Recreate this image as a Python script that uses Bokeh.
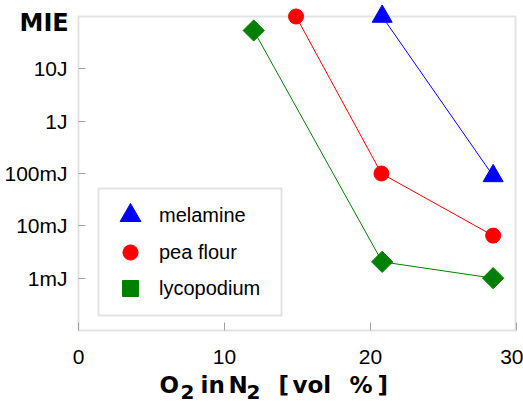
from bokeh.plotting import figure
from bokeh.models import (FixedTicker, Label, BoxAnnotation, Range1d,
                          Legend, LegendItem)
from bokeh.embed import file_html
from bokeh.resources import INLINE
import math

# ---- data (O2 in N2 [vol %], MIE in J) ----
o2_melamine = [20.8, 28.4]
mie_melamine = [100.0, 0.09]
o2_pea = [14.9, 20.75, 28.4]
mie_pea = [100.0, 0.1, 0.0065]
o2_lyco = [12.0, 20.8, 28.4]
mie_lyco = [54.0, 0.00205, 0.001]

x_ticks = [0, 10, 20, 30]
y_ticks = [0.001, 0.01, 0.1, 1.0, 10.0]
y_tick_labels = ["1mJ", "10mJ", "100mJ", "1J", "10J"]

GREY = "#a0a0a0"

# frame covers the whole canvas; axes are pinned with fixed_location
W, H = 523, 402
AX_X, AX_Y = 78, 330          # canvas px of x=0 and y=1e-4
PX_UNIT = 14.6                # px per vol %
PX_DEC = 314 / 6              # px per decade
x0 = -AX_X / PX_UNIT
x1 = (W - AX_X) / PX_UNIT
y0 = 1e-4 * 10 ** (-(H - AX_Y) / PX_DEC)
y1 = 1e-4 * 10 ** (AX_Y / PX_DEC)

p = figure(width=W, height=H, y_axis_type="log",
           x_range=Range1d(x0, x1), y_range=Range1d(y0, y1),
           output_backend="svg", toolbar_location=None, title=None,
           min_border_left=0, min_border_right=0, min_border_top=0,
           min_border_bottom=0)
p.outline_line_color = None
p.background_fill_color = "white"
p.border_fill_color = "white"
p.xgrid.visible = False
p.ygrid.visible = False

# frame box
p.add_layout(BoxAnnotation(left=0, right=(515 - AX_X) / PX_UNIT, bottom=1e-4,
                           top=100, fill_alpha=0, line_color=GREY,
                           line_width=2, level="underlay"))

for ax in (p.xaxis[0], p.yaxis[0]):
    ax.axis_line_color = None
    ax.major_tick_line_color = GREY
    ax.major_tick_line_width = 1
    ax.major_tick_out = 0
    ax.minor_tick_line_color = None
    ax.major_label_text_font = "Liberation Sans"
    ax.major_label_text_font_size = "21px"
    ax.major_label_text_color = "black"

p.xaxis.fixed_location = 1e-4
p.yaxis.fixed_location = 0
p.xaxis.ticker = FixedTicker(ticks=x_ticks, minor_ticks=[])
p.xaxis.major_tick_in = 8
p.xaxis.major_label_standoff = 19
p.yaxis.ticker = FixedTicker(ticks=y_ticks, minor_ticks=[])
p.yaxis.major_tick_in = 7
p.yaxis.major_label_standoff = 11
p.yaxis.major_label_overrides = {t: l for t, l in zip(y_ticks, y_tick_labels)}

# series
p.line(o2_melamine, mie_melamine, line_color="#0000ff", line_width=1)
p.line(o2_pea, mie_pea, line_color="#ff0000", line_width=1)
p.line(o2_lyco, mie_lyco, line_color="#008000", line_width=1)
r_mel = p.scatter(o2_melamine, mie_melamine, marker="triangle", size=20,
                  fill_color="#0000ff", line_color="#0000ff")
r_pea = p.scatter(o2_pea, mie_pea, marker="circle", size=15,
                  fill_color="#ff0000", line_color="#ff0000")
r_lyc = p.scatter(o2_lyco, mie_lyco, marker="square", size=15, angle=math.pi / 4,
                  fill_color="#008000", line_color="#008000")

# legend frame
p.add_layout(BoxAnnotation(left=98, right=281, top=188, bottom=315,
                           left_units="canvas", right_units="canvas",
                           top_units="canvas", bottom_units="canvas",
                           fill_color="white", fill_alpha=1,
                           line_color=GREY, line_width=2, level="annotation"))

# one legend per entry so each key gets its own glyph size
GW = 52
for lab, rend, gh, cy in [("melamine", r_mel, 52, H - 215),
                          ("pea flour", r_pea, 38, H - 252),
                          ("lycopodium", r_lyc, 40, H - 288)]:
    lg = Legend(items=[LegendItem(label=lab, renderers=[rend])],
                location=(104, cy - gh / 2), margin=0, padding=0,
                spacing=0, glyph_width=GW, glyph_height=gh,
                label_standoff=3, label_height=gh,
                label_text_font="Liberation Sans", label_text_font_size="20px",
                label_text_baseline="middle", label_text_color="black",
                border_line_color=None, background_fill_alpha=0)
    p.add_layout(lg)

# y title
p.add_layout(Label(x=19, y=22, x_units="canvas", y_units="canvas", text="MIE",
                   text_font="DejaVu Sans", text_font_style="bold",
                   text_font_size="24px", text_color="black",
                   text_baseline="middle"))

# x title pieces
pieces = [("O", 159, 384, "23px"), ("2", 180, 391, "20px"),
          ("in", 200, 384, "23px"), ("N", 228, 384, "23px"),
          ("2", 246, 391, "20px"), ("[", 278, 384, "23px"),
          ("vol", 292, 384, "23px"), ("%", 349, 384, "23px"),
          ("]", 377, 384, "23px")]
for txt, x, y, fs in pieces:
    p.add_layout(Label(x=x, y=y, x_units="canvas", y_units="canvas", text=txt,
                       text_font="DejaVu Sans", text_font_style="bold",
                       text_font_size=fs, text_color="black",
                       text_baseline="middle"))

open("out.html", "w").write(file_html(p, INLINE))
